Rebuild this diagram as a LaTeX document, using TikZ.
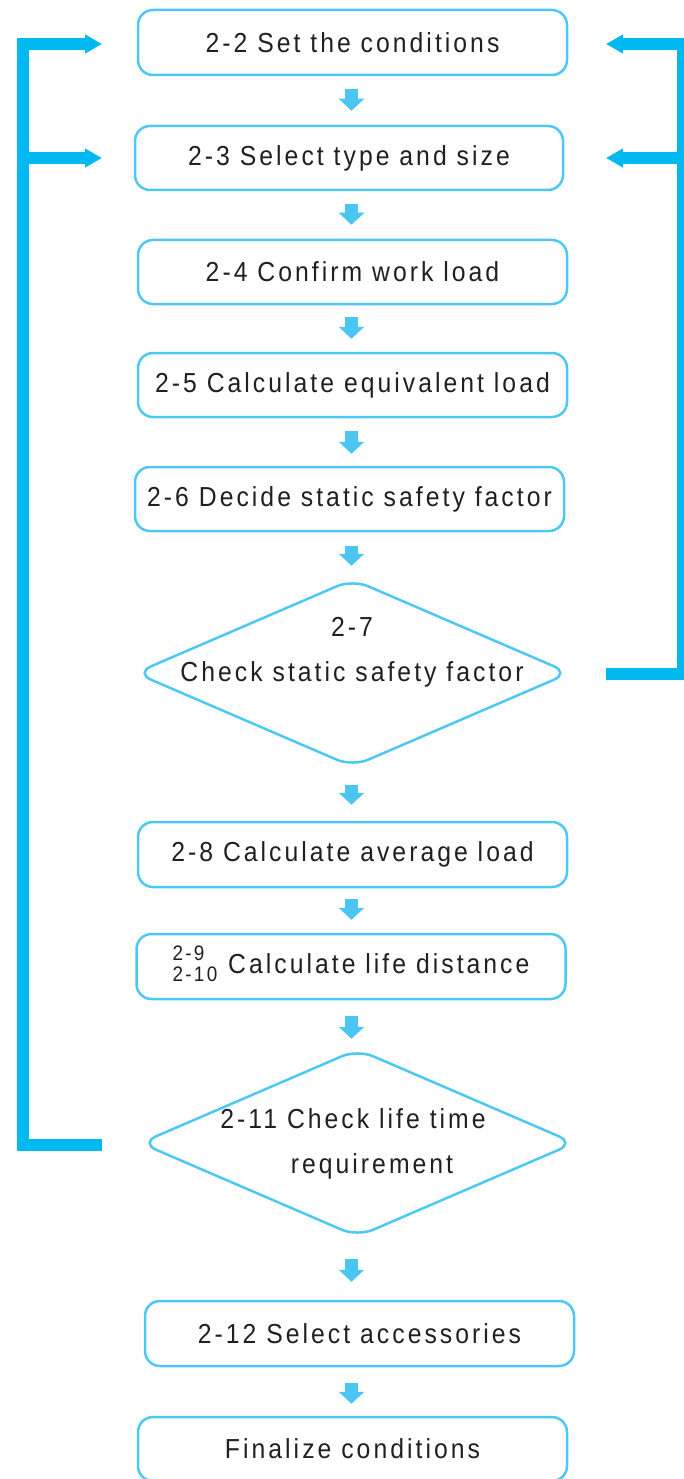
\documentclass[tikz,border=0pt]{standalone}
\usepackage{fontspec}
\setmainfont[LetterSpace=11, FakeStretch=0.9]{Liberation Sans}
\usepackage{xcolor}
\usetikzlibrary{shapes.geometric, arrows.meta}

\definecolor{boxblue}{RGB}{77,200,245}
\definecolor{arrblue}{RGB}{75,198,242}
\definecolor{loopblue}{RGB}{0,185,240}
\definecolor{txtgray}{RGB}{35,31,32}

\begin{document}
\begin{tikzpicture}[x = 1pt, y = -1pt, font = \fontsize{27.5pt}{45pt}\selectfont,
    box/.style = {rectangle, draw = boxblue, line width = 2.5pt, rounded corners = 15pt, minimum width = 429pt, minimum height = 64pt, inner sep = 0pt, text = txtgray},
    decision/.style = {diamond, draw = boxblue, line width = 2.5pt, rounded corners = 17pt, minimum width = 435pt, minimum height = 188pt, inner sep = 0pt},
    flow/.style = {arrblue, line width = 13pt, -{Triangle[width = 25pt, length = 12pt]}},
    back/.style = {loopblue, line width = 12pt, -{Triangle[width = 18pt, length = 17pt]}}]
      \useasboundingbox (0, 0) rectangle (683, 1479);
      % boxes and decisions
      \node [box, minimum height = 65pt] (b22) at (352.5, 42.5) {2-2 Set the conditions};
      \node [box, minimum width = 428pt] (b23) at (349, 158) {2-3 Select type and size};
      \node [box] (b24) at (352.5, 272) {2-4 Confirm work load};
      \node [box] (b25) at (352.5, 385) {2-5 Calculate equivalent load};
      \node [box] (b26) at (349.5, 499) {2-6 Decide static safety factor};
      \node [decision] (chk7) at (352.5, 673) {};
      \node [text = txtgray, align = center, inner sep = 0pt] (t27) at (352, 652.5) {2-7\\Check static safety factor};
      \node [box, minimum height = 65pt] (b28) at (352.5, 854.5) {2-8 Calculate average load};
      \node [box, minimum height = 65pt] (b29) at (351, 966.5) {\raisebox{-8pt}{\fontsize{21pt}{21pt}\selectfont\begin{tabular}[b]{@{}l@{}}2-9\\2-10\end{tabular}}\hspace{1pt} Calculate life distance};
      \node [decision] (chk11) at (357.5, 1143) {};
      \node [text = txtgray, align = center, inner sep = 0pt] (t211) at (353, 1144) {2-11 Check life time\\\hspace*{38pt}requirement};
      \node [box, minimum height = 65pt] (b212) at (359.5, 1333.5) {2-12 Select accessories};
      \node [box] (bfin) at (352.5, 1449) {Finalize conditions};
      % down arrows
      \coordinate (col) at (351.5, 0);
      \draw [flow, shorten <= 13pt, shorten >= 14pt] (b22.south -| col) -- (b23.north -| col);
      \draw [flow, shorten <= 13pt, shorten >= 14pt] (b23.south -| col) -- (b24.north -| col);
      \draw [flow, shorten <= 12pt, shorten >= 13pt] (b24.south -| col) -- (b25.north -| col);
      \draw [flow, shorten <= 13pt, shorten >= 12pt] (b25.south -| col) -- (b26.north -| col);
      \draw [flow, shorten <= 14pt, shorten >= 12pt] (b26.south -| col) -- (chk7.north -| col);
      \draw [flow, shorten <= 17pt, shorten >= 16pt] (chk7.south -| col) -- (b28.north -| col);
      \draw [flow, shorten <= 11pt, shorten >= 13pt] (b28.south -| col) -- (b29.north -| col);
      \draw [flow, shorten <= 16pt, shorten >= 9pt] (b29.south -| col) -- (chk11.north -| col);
      \draw [flow, shorten <= 21pt, shorten >= 18pt] (chk11.south -| col) -- (b212.north -| col);
      \draw [flow, shorten <= 16pt, shorten >= 12pt] (b212.south -| col) -- (bfin.north -| col);
      % feedback lines
      \coordinate (l0) at (102, 1145);
      \coordinate (ltop) at (23, 44);
      \draw [back] (l0) -| (ltop) -- (ltop -| l0);
      \draw [back] (ltop |- b23) -- (l0 |- b23);
      \coordinate (r0) at (606, 674);
      \coordinate (rtop) at (683, 44);
      \draw [back] (r0) -| (rtop) -- (rtop -| r0);
      \draw [back] (rtop |- b23) -- (r0 |- b23);
    \end{tikzpicture}
\end{document}
